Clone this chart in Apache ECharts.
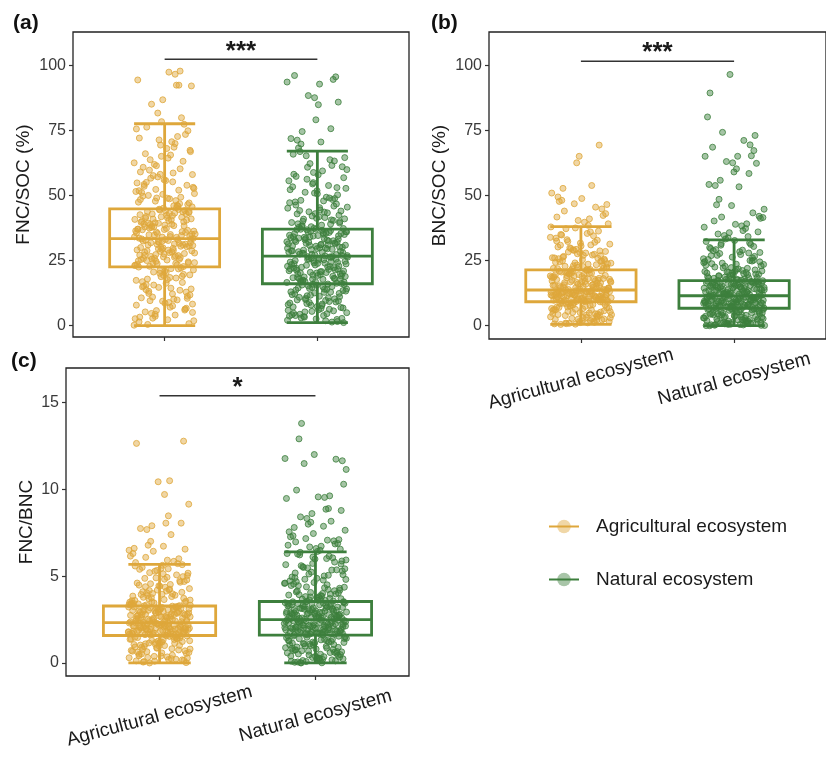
<!DOCTYPE html>
<html><head><meta charset="utf-8">
<script src="https://cdn.jsdelivr.net/npm/echarts@6/dist/echarts.min.js"></script>
<style>html,body{margin:0;padding:0;background:#fff}#c{width:826px;height:760px}</style>
</head><body><div id="c"></div>
<script>
// ---------------- data ----------------
const categories = ['Agricultural ecosystem', 'Natural ecosystem'];
const panelLabels = ['(a)', '(b)', '(c)'];
const yNames = ['FNC/SOC (%)', 'BNC/SOC (%)', 'FNC/BNC'];
const yTicksA = [0, 25, 50, 75, 100];
const yTicksB = [0, 25, 50, 75, 100];
const yTicksC = [0, 5, 10, 15];
// box statistics: [lower whisker, Q1, median, Q3, upper whisker]
const boxA_agri = [0, 22.6, 33.4, 44.8, 77.5];
const boxA_nat  = [1.2, 16.1, 26.7, 37.1, 67.0];
const boxB_agri = [0.5, 9.2, 13.7, 21.4, 38.0];
const boxB_nat  = [0, 6.7, 11.5, 17.3, 32.9];
const boxC_agri = [0, 1.58, 2.32, 3.28, 5.67];
const boxC_nat  = [0, 1.60, 2.50, 3.54, 6.39];
// significance annotations
const sigLabels = ['***', '***', '*'];
const sigY = [102.2, 101.5, 15.38];

const ptsA_agri = [0.2,0.8,1.5,2.3,2.9,3.6,4.1,4.7,5.3,5.8,6.4,7.1,7.6,8.3,8.9,9.4,10.2,10.7,11.3,11.8,12.4,12.9,13.6,14.1,14.7,15.2,15.8,16.3,16.9,17.4,17.9,18.3,18.8,19.3,19.7,20.1,20.6,21.0,21.4,21.8,22.2,3.3,9.9,14.4,19.0,
22.8,23.1,23.5,23.8,24.2,24.5,24.9,25.2,25.6,25.9,26.3,26.6,27.0,27.3,27.7,28.0,28.3,28.7,29.0,29.3,29.7,30.0,30.3,30.6,31.0,31.3,31.6,31.9,32.2,32.5,32.8,33.1,33.3,23.3,25.0,26.8,28.5,29.9,31.1,32.0,24.0,27.5,30.8,33.0,26.1,
33.6,33.9,34.2,34.6,34.9,35.2,35.6,35.9,36.3,36.6,37.0,37.3,37.7,38.0,38.4,38.8,39.1,39.5,39.9,40.3,40.6,41.0,41.4,41.8,42.2,42.6,43.0,43.4,43.8,44.2,44.6,34.4,35.4,36.8,37.9,38.6,39.7,40.8,41.9,43.2,44.4,34.0,36.1,39.3,42.9,
45.1,45.6,46.2,46.8,47.4,48.0,48.7,49.3,50.0,50.7,51.5,52.3,53.1,53.9,54.8,55.7,56.6,57.6,58.6,59.7,60.8,61.9,63.1,64.3,65.5,66.8,68.0,69.3,70.6,72.0,73.4,74.8,76.2,77.3,45.9,47.1,49.0,51.1,53.5,56.0,59.0,62.5,66.0,68.5,71.3,
78.3,79.8,81.6,85.0,86.7,92.0,92.3,92.3,94.3,96.5,97.3,97.7,
0.5,1.9,2.7,4.4,5.1,6.7,7.9,8.6,9.6,11.0,12.2,13.2,14.9,15.6,16.6,17.7,18.5,19.5,20.4,21.2,21.9,22.5,6.0,10.5,13.8,
22.7,23.4,24.1,24.7,25.4,25.8,26.4,27.1,27.9,28.2,28.9,29.5,30.1,30.5,31.2,31.8,32.4,33.2,23.9,26.9,29.1,31.4,32.7,25.5,28.8,
33.5,34.1,34.8,35.1,35.8,36.4,36.9,37.5,38.2,38.9,39.4,40.1,40.9,41.6,42.4,43.1,43.6,44.0,44.7,35.0,37.1,38.3,40.5,41.3,43.7,
45.3,46.5,47.8,48.4,49.7,50.4,51.8,52.7,54.2,55.2,57.1,58.1,60.2,61.4,63.7,65.0,67.3,69.9,72.6,75.5,46.0,48.9,52.0,55.0,58.0];
const ptsA_nat = [1.2,1.6,2.1,2.6,3.0,3.5,3.9,4.4,4.8,5.3,5.7,6.1,6.6,7.0,7.4,7.9,8.3,8.7,9.1,9.5,9.9,10.3,10.7,11.1,11.5,11.9,12.2,12.6,13.0,13.3,13.7,14.0,14.3,14.7,15.0,15.3,15.6,15.9,2.8,4.6,6.3,8.1,9.7,11.3,12.9,14.5,15.8,5.0,10.0,13.5,
16.3,16.6,16.9,17.2,17.5,17.8,18.1,18.4,18.7,19.0,19.3,19.6,19.9,20.2,20.5,20.8,21.1,21.4,21.7,22.0,22.3,22.6,22.9,23.2,23.5,23.8,24.1,24.4,24.7,25.0,25.3,25.6,25.9,26.2,26.5,16.8,17.9,19.1,20.4,21.6,22.8,24.0,25.2,26.4,18.5,21.0,23.7,17.0,20.0,25.5,
26.9,27.2,27.5,27.8,28.1,28.4,28.7,29.0,29.3,29.6,29.9,30.2,30.5,30.8,31.1,31.4,31.7,32.0,32.3,32.6,32.9,33.2,33.5,33.8,34.1,34.4,34.7,35.0,35.3,35.6,35.9,36.2,36.5,36.8,37.0,27.4,28.6,29.8,31.0,32.2,33.4,34.6,35.8,36.9,28.0,30.9,33.9,27.0,31.5,36.0,
37.4,37.8,38.2,38.6,39.1,39.6,40.1,40.6,41.2,41.8,42.4,43.0,43.7,44.4,45.1,45.9,46.7,47.5,48.4,49.3,50.2,51.2,52.2,53.3,54.4,55.6,56.8,58.1,59.4,60.8,62.2,63.7,65.2,66.8,38.0,39.9,41.5,43.3,45.5,47.9,50.6,53.8,57.3,61.0,64.5,40.9,44.0,48.8,52.7,58.8,
68.2,69.7,70.5,71.2,71.8,74.5,75.6,79.0,84.8,85.8,87.5,88.3,92.7,93.5,94.5,95.5,96.0,
1.4,1.9,2.4,3.3,3.7,4.2,5.5,5.9,6.8,7.2,7.7,8.5,8.9,9.3,10.5,10.9,11.7,12.4,12.8,13.9,14.1,14.9,15.5,16.0,3.9,
16.2,16.7,17.3,17.7,18.2,18.9,19.4,19.8,20.3,20.7,21.3,21.8,22.4,22.7,23.3,23.9,24.3,24.8,25.4,25.8,26.3,26.6,18.0,22.1,24.6,
26.8,27.3,27.7,28.2,28.8,29.2,29.7,30.1,30.6,31.2,31.6,32.1,32.5,33.0,33.6,34.0,34.5,35.1,35.5,36.1,36.6,37.0,29.5,32.8,35.4,
37.3,38.4,39.4,40.4,41.0,42.1,42.9,44.2,45.3,46.3,47.2,48.1,49.0,50.9,51.8,53.0,54.9,56.2,57.9,59.9,61.5,63.2,65.8,39.0,43.6];
const ptsB_agri = [0.5,0.7,1.0,1.3,1.6,1.9,2.2,2.5,2.8,3.1,3.4,3.7,4.0,4.3,4.6,4.9,5.2,5.5,5.8,6.1,6.3,6.6,6.9,7.1,7.4,7.6,7.9,8.1,8.4,8.6,8.8,9.0,1.1,2.0,3.0,4.1,5.0,6.0,7.0,8.0,9.1,0.8,2.6,4.5,6.8,
9.3,9.4,9.5,9.6,9.7,9.8,9.9,10.0,10.1,10.2,10.3,10.4,10.5,10.6,10.7,10.8,10.9,11.0,11.1,11.2,11.3,11.4,11.5,11.6,11.7,11.8,11.9,12.0,12.1,12.2,12.3,12.4,12.5,12.6,12.7,12.8,12.9,13.0,13.1,13.2,13.3,13.4,13.5,13.6,13.65,
13.8,14.0,14.2,14.4,14.6,14.7,14.9,15.1,15.3,15.5,15.7,15.8,16.0,16.2,16.4,16.6,16.8,16.9,17.1,17.3,17.5,17.7,17.9,18.0,18.2,18.4,18.6,18.8,19.0,19.1,19.3,19.5,19.7,19.9,20.1,20.2,20.4,20.6,20.8,21.0,21.2,21.3,14.3,17.0,19.6,
21.6,21.9,22.2,22.5,22.8,23.1,23.4,23.8,24.1,24.5,24.9,25.3,25.7,26.1,26.6,27.1,27.6,28.1,28.7,29.3,29.9,30.6,31.3,32.0,32.8,33.6,34.5,35.4,36.3,37.2,37.9,22.0,23.0,24.0,25.0,26.0,27.0,28.3,29.6,31.0,33.0,35.0,21.8,24.7,27.9,
38.5,39.1,39.7,40.4,41.0,41.7,42.3,43.0,44.0,44.8,45.5,46.5,46.8,47.7,48.1,48.8,49.4,50.9,52.7,53.8,62.5,65.0,69.3,
0.6,0.9,1.2,1.5,1.8,2.1,2.4,2.7,3.2,3.5,3.9,4.2,4.7,5.1,5.4,5.7,6.2,6.5,7.2,7.5,7.8,8.3,8.5,8.9,9.15,
9.25,9.45,9.65,9.85,10.05,10.25,10.45,10.65,10.85,11.05,11.25,11.45,11.65,11.85,12.05,12.25,12.45,12.65,12.85,13.05,13.25,13.45,13.55,10.15,11.75,
13.9,14.1,14.5,14.8,15.0,15.4,15.6,15.9,16.3,16.5,16.7,17.2,17.4,17.8,18.1,18.5,18.9,19.2,19.8,20.0,20.5,20.9,21.1,15.2,18.3,
21.5,22.1,22.7,23.3,23.6,24.3,24.8,25.5,26.3,26.9,27.4,28.5,29.1,30.2,30.9,31.7,32.5,33.9,34.8,36.0,37.5,22.4,25.9,28.9,32.3];
const ptsB_nat = [0.0,0.1,0.2,0.3,0.5,0.6,0.8,0.9,1.1,1.2,1.4,1.5,1.7,1.9,2.0,2.2,2.4,2.5,2.7,2.9,3.1,3.2,3.4,3.6,3.8,3.9,4.1,4.3,4.5,4.6,4.8,5.0,5.2,5.3,5.5,5.7,5.9,6.0,6.2,6.4,6.6,0.4,1.0,1.8,2.6,3.5,4.4,5.1,5.8,6.5,
6.8,6.9,7.0,7.1,7.2,7.3,7.4,7.5,7.6,7.7,7.8,7.9,8.0,8.1,8.2,8.3,8.4,8.5,8.6,8.7,8.8,8.9,9.0,9.1,9.2,9.3,9.4,9.5,9.6,9.7,9.8,9.9,10.0,10.1,10.2,10.3,10.4,10.5,10.6,10.7,10.8,10.9,11.0,11.1,11.2,11.3,11.4,7.35,8.55,9.75,
11.6,11.7,11.8,12.0,12.1,12.2,12.4,12.5,12.6,12.8,12.9,13.0,13.2,13.3,13.4,13.6,13.7,13.8,14.0,14.1,14.2,14.4,14.5,14.6,14.8,14.9,15.0,15.2,15.3,15.4,15.6,15.7,15.8,16.0,16.1,16.2,16.4,16.5,16.6,16.8,16.9,17.0,17.2,12.3,13.5,14.7,15.9,17.1,11.9,16.3,
17.5,17.8,18.1,18.4,18.7,19.0,19.3,19.7,20.0,20.4,20.8,21.2,21.6,22.0,22.5,23.0,23.5,24.0,24.5,25.1,25.7,26.3,27.0,27.7,28.4,29.2,30.0,30.9,31.8,32.7,17.6,18.5,19.5,20.6,21.8,23.2,24.8,26.6,28.8,31.2,18.0,19.8,22.2,25.4,29.6,17.9,20.2,21.0,23.8,27.3,
33.3,33.7,34.2,34.6,35.2,35.7,36.0,36.5,37.3,37.8,38.3,38.9,39.1,40.2,41.2,41.5,41.7,42.0,43.3,44.7,46.1,46.4,48.5,53.3,53.8,54.2,55.8,58.4,59.0,60.2,62.3,62.5,63.0,65.0,65.0,65.2,67.2,68.5,69.4,71.1,73.0,74.2,80.1,89.3,96.4,
0.05,0.15,0.35,0.45,0.7,0.85,1.15,1.3,1.6,1.75,2.1,2.3,2.8,3.0,3.3,3.7,4.0,4.2,4.7,4.9,5.4,5.6,6.1,6.3,6.6,
6.75,6.95,7.15,7.45,7.65,7.85,8.05,8.25,8.45,8.65,8.85,9.05,9.25,9.45,9.65,9.85,10.05,10.25,10.45,10.65,10.85,11.05,11.25,11.45,8.95,
11.65,11.95,12.15,12.45,12.7,12.95,13.15,13.45,13.65,13.95,14.15,14.35,14.65,14.95,15.1,15.45,15.65,15.95,16.15,16.45,16.7,16.95,17.25,13.1,15.5,
17.4,17.7,18.2,18.8,19.2,19.6,20.3,20.9,21.4,22.3,22.8,23.6,24.2,25.0,26.0,26.9,27.9,29.0,30.4,31.5,32.3,18.3,20.5,24.6,28.1];
const ptsC_agri = [0.0,0.05,0.1,0.15,0.2,0.25,0.3,0.35,0.4,0.45,0.5,0.55,0.6,0.65,0.7,0.75,0.8,0.85,0.9,0.95,1.0,1.03,1.06,1.1,1.13,1.16,1.2,1.23,1.26,1.3,1.33,1.36,1.4,1.43,1.46,1.5,1.53,1.56,0.32,0.68,0.92,1.18,1.38,1.55,0.12,
1.6,1.62,1.64,1.66,1.68,1.7,1.72,1.74,1.76,1.78,1.8,1.82,1.84,1.86,1.88,1.9,1.92,1.94,1.96,1.98,2.0,2.02,2.04,2.06,2.08,2.1,2.12,2.14,2.16,2.18,2.2,2.22,2.24,2.26,2.28,2.3,1.65,1.75,1.85,1.95,2.05,2.15,2.25,1.71,2.11,
2.34,2.36,2.39,2.41,2.43,2.45,2.48,2.5,2.52,2.54,2.57,2.59,2.61,2.63,2.66,2.68,2.7,2.72,2.75,2.77,2.79,2.81,2.84,2.86,2.88,2.9,2.93,2.95,2.97,2.99,3.02,3.04,3.06,3.08,3.11,3.13,3.15,3.17,3.2,3.22,3.24,3.26,2.55,2.8,3.05,
3.3,3.34,3.38,3.42,3.46,3.5,3.55,3.6,3.65,3.7,3.76,3.82,3.88,3.94,4.0,4.07,4.14,4.21,4.28,4.36,4.44,4.52,4.6,4.69,4.78,4.87,4.97,5.07,5.17,5.28,5.39,5.5,5.62,3.4,3.58,3.78,3.98,4.2,4.42,4.65,4.9,5.2,5.45,3.32,3.9,
5.72,5.78,5.85,5.92,6.0,6.08,6.15,6.3,6.43,6.49,6.55,6.6,6.72,6.78,7.0,7.39,7.68,7.74,7.9,8.05,8.05,8.47,9.14,9.7,10.43,10.49,12.64,12.77,
0.02,0.08,0.18,0.22,0.28,0.38,0.42,0.52,0.58,0.62,0.72,0.78,0.82,0.88,0.98,1.01,1.08,1.15,1.22,1.28,1.35,1.41,1.48,1.52,1.57,
1.59,1.63,1.67,1.69,1.73,1.77,1.79,1.83,1.87,1.89,1.93,1.97,1.99,2.03,2.07,2.09,2.13,2.17,2.19,2.23,2.27,2.29,2.31,1.81,2.01,
2.33,2.38,2.42,2.47,2.51,2.56,2.6,2.65,2.69,2.74,2.78,2.83,2.87,2.92,2.96,3.01,3.03,3.07,3.1,3.14,3.19,3.23,3.27,2.62,2.91,
3.29,3.36,3.44,3.52,3.62,3.72,3.85,3.96,4.04,4.17,4.25,4.39,4.48,4.56,4.73,4.82,4.93,5.03,5.13,5.33,5.42,5.58,5.66,3.48,4.1];
const ptsC_nat = [0.0,0.04,0.08,0.12,0.16,0.2,0.24,0.28,0.32,0.36,0.4,0.44,0.48,0.52,0.56,0.6,0.64,0.68,0.72,0.76,0.8,0.84,0.88,0.92,0.96,1.0,1.03,1.06,1.09,1.12,1.15,1.18,1.21,1.24,1.27,1.3,1.33,1.36,1.39,1.42,1.45,1.48,1.51,1.54,1.57,0.3,0.7,1.1,1.35,0.02,
1.62,1.64,1.66,1.68,1.7,1.72,1.74,1.76,1.78,1.8,1.82,1.84,1.86,1.88,1.9,1.92,1.94,1.96,1.98,2.0,2.02,2.04,2.06,2.08,2.1,2.12,2.14,2.16,2.18,2.2,2.22,2.24,2.26,2.28,2.3,2.32,2.34,2.36,2.38,2.4,2.42,2.44,2.46,2.48,1.73,1.87,2.01,2.15,2.29,2.43,
2.52,2.54,2.56,2.58,2.6,2.62,2.64,2.66,2.68,2.7,2.72,2.74,2.76,2.78,2.8,2.82,2.84,2.86,2.88,2.9,2.93,2.96,2.99,3.02,3.05,3.08,3.11,3.14,3.17,3.2,3.23,3.26,3.29,3.32,3.35,3.38,3.41,3.44,3.47,3.5,3.53,2.65,2.85,3.0,3.15,3.3,3.45,2.57,2.79,3.1,
3.57,3.61,3.65,3.7,3.75,3.8,3.85,3.91,3.97,4.03,4.09,4.16,4.23,4.3,4.38,4.46,4.54,4.63,4.72,4.81,4.91,5.01,5.12,5.23,5.35,5.47,5.6,5.73,5.87,6.01,6.15,6.3,3.6,3.78,3.96,4.15,4.36,4.58,4.82,5.08,5.36,5.66,5.98,6.22,3.68,4.0,4.45,4.95,5.5,6.05,
6.42,6.49,6.55,6.59,6.68,6.72,6.78,6.85,6.88,6.97,7.03,7.07,7.1,7.16,7.26,7.32,7.45,7.55,7.64,7.8,7.87,7.99,8.1,8.16,8.32,8.41,8.6,8.78,8.85,8.89,9.47,9.53,9.56,9.62,9.95,10.29,11.14,11.48,11.64,11.73,11.77,12.0,12.9,13.79,
0.01,0.06,0.1,0.14,0.18,0.22,0.26,0.34,0.38,0.46,0.5,0.58,0.62,0.66,0.74,0.78,0.86,0.9,0.98,1.04,1.14,1.2,1.29,1.41,1.55,
1.61,1.63,1.67,1.69,1.71,1.75,1.79,1.81,1.85,1.89,1.91,1.95,1.99,2.03,2.07,2.09,2.13,2.17,2.21,2.25,2.27,2.33,2.37,2.41,2.47,
2.51,2.55,2.59,2.63,2.67,2.71,2.75,2.81,2.87,2.92,2.95,2.98,3.04,3.07,3.13,3.16,3.22,3.25,3.31,3.34,3.4,3.43,3.49,3.52,2.89,
3.55,3.63,3.72,3.82,3.93,4.06,4.19,4.33,4.5,4.6,4.77,4.87,5.05,5.18,5.29,5.42,5.54,5.7,5.81,5.93,6.1,6.27,6.37,3.88,4.68];

// ---------------- style ----------------
const COLORS = ['#DEA73B', '#3D7F3D'];
const FILLS = ['rgba(222,167,59,0.58)', 'rgba(61,127,61,0.58)'];
const LEG_FILLS = ['rgba(222,167,59,0.45)', 'rgba(61,127,61,0.45)'];
const FONT = '"Liberation Sans", Arial, Helvetica, sans-serif';
const BOX_HALF = 0.36, CAP_HALF = 0.2, JIT = 0.2;

const grids = [
  {left: 73, top: 32, width: 336, height: 305},
  {left: 489, top: 32, width: 337, height: 307},
  {left: 66, top: 368, width: 343, height: 308}
];
const yRanges = [[-4.33, 112.7], [-5.1, 112.7], [-0.75, 16.98]];
const yTicks = [yTicksA, yTicksB, yTicksC];
const yNameGaps = [40, 40, 30];
const boxes = [[boxA_agri, boxA_nat], [boxB_agri, boxB_nat], [boxC_agri, boxC_nat]];
const pts = [[ptsA_agri, ptsA_nat], [ptsB_agri, ptsB_nat], [ptsC_agri, ptsC_nat]];
const starOffsetPx = 8;

// deterministic low-discrepancy horizontal jitter (position only, values untouched)
function jitterPoints(vals, cat, seed) {
  return vals.map((v, i) => {
    const f = ((i * 0.7548776662 + seed * 0.31) + (i * i % 7) * 0.1429) % 1;
    return [cat + (f - 0.5) * 2 * JIT, v];
  });
}

const xAxes = [], yAxes = [], series = [];
grids.forEach((g, k) => {
  xAxes.push({
    type: 'value', gridIndex: k, min: 0.4, max: 2.6,
    axisLine: {show: false, onZero: false},
    splitLine: {show: false},
    axisTick: {show: true, customValues: [1, 2], length: 4, lineStyle: {color: '#333', width: 1.2}},
    axisLabel: {
      show: k > 0, customValues: [1, 2],
      formatter: v => categories[Math.round(v) - 1],
      rotate: 15, align: 'center', verticalAlign: 'middle', margin: 40,
      fontSize: 19, color: '#1a1a1a', fontFamily: FONT
    }
  });
  yAxes.push({
    type: 'value', gridIndex: k, min: yRanges[k][0], max: yRanges[k][1],
    axisLine: {show: false, onZero: false},
    splitLine: {show: false},
    axisTick: {show: true, customValues: yTicks[k], length: 4, lineStyle: {color: '#333', width: 1.2}},
    axisLabel: {customValues: yTicks[k], margin: 7, fontSize: 16, color: '#3a3a3a', fontFamily: FONT},
    name: yNames[k], nameLocation: 'middle', nameRotate: 90, nameGap: yNameGaps[k],
    nameTextStyle: {fontSize: 19, color: '#1a1a1a', fontFamily: FONT}
  });
});

// legend proxies (first series with each name)
categories.forEach((name, c) => {
  series.push({
    type: 'line', name: name, xAxisIndex: 0, yAxisIndex: 0, data: [],
    symbol: 'circle', itemStyle: {color: LEG_FILLS[c]},
    lineStyle: {color: COLORS[c], width: 4}
  });
});

grids.forEach((g, k) => {
  // boxes
  series.push({
    type: 'custom', xAxisIndex: k, yAxisIndex: k, z: 1, silent: true,
    data: boxes[k].map((b, c) => [c + 1].concat(b)),
    renderItem: function (params, api) {
      const x = api.value(0), q1 = api.value(2), med = api.value(3), q3 = api.value(4);
      const col = COLORS[Math.round(x) - 1];
      const a = api.coord([x - BOX_HALF, q3]), b = api.coord([x + BOX_HALF, q1]);
      const m1 = api.coord([x - BOX_HALF, med]), m2 = api.coord([x + BOX_HALF, med]);
      return {type: 'group', children: [
        {type: 'rect', shape: {x: a[0], y: a[1], width: b[0] - a[0], height: b[1] - a[1]},
         style: {fill: 'none', stroke: col, lineWidth: 2.8}},
        {type: 'line', shape: {x1: m1[0], y1: m1[1], x2: m2[0], y2: m2[1]},
         style: {stroke: col, lineWidth: 2.8}}
      ]};
    }
  });
  // jittered points
  pts[k].forEach((vals, c) => {
    series.push({
      type: 'scatter', name: categories[c], xAxisIndex: k, yAxisIndex: k, z: 2,
      symbol: 'circle', symbolSize: 6, silent: true, large: false,
      itemStyle: {color: FILLS[c], borderColor: COLORS[c], borderWidth: 1},
      data: jitterPoints(vals, c + 1, k * 7 + c * 3)
    });
  });
  // whiskers and caps
  series.push({
    type: 'custom', xAxisIndex: k, yAxisIndex: k, z: 3, silent: true,
    data: boxes[k].map((b, c) => [c + 1].concat(b)),
    renderItem: function (params, api) {
      const x = api.value(0), lo = api.value(1), q1 = api.value(2), q3 = api.value(4), hi = api.value(5);
      const col = COLORS[Math.round(x) - 1];
      const st = {stroke: col, lineWidth: 2.8};
      const pLo = api.coord([x, lo]), pQ1 = api.coord([x, q1]), pQ3 = api.coord([x, q3]), pHi = api.coord([x, hi]);
      const cl1 = api.coord([x - CAP_HALF, lo]), cl2 = api.coord([x + CAP_HALF, lo]);
      const ch1 = api.coord([x - CAP_HALF, hi]), ch2 = api.coord([x + CAP_HALF, hi]);
      return {type: 'group', children: [
        {type: 'line', shape: {x1: pLo[0], y1: pLo[1], x2: pQ1[0], y2: pQ1[1]}, style: st},
        {type: 'line', shape: {x1: pQ3[0], y1: pQ3[1], x2: pHi[0], y2: pHi[1]}, style: st},
        {type: 'line', shape: {x1: cl1[0], y1: cl1[1], x2: cl2[0], y2: cl2[1]}, style: st},
        {type: 'line', shape: {x1: ch1[0], y1: ch1[1], x2: ch2[0], y2: ch2[1]}, style: st}
      ]};
    }
  });
  // significance bar
  series.push({
    type: 'custom', xAxisIndex: k, yAxisIndex: k, z: 4, silent: true,
    data: [[1, 2, sigY[k]]],
    renderItem: function (params, api) {
      const p1 = api.coord([api.value(0), api.value(2)]), p2 = api.coord([api.value(1), api.value(2)]);
      return {type: 'group', children: [
        {type: 'line', shape: {x1: p1[0], y1: p1[1], x2: p2[0], y2: p2[1]}, style: {stroke: '#333', lineWidth: 1.5}},
        {type: 'text', x: (p1[0] + p2[0]) / 2, y: p1[1] - starOffsetPx,
         style: {text: sigLabels[k], fontSize: 26, fontWeight: 'bold', fontFamily: FONT, fill: '#1a1a1a',
                 align: 'center', verticalAlign: 'middle'}}
      ]};
    }
  });
});

const chart = echarts.init(document.getElementById('c'), null, {renderer: 'canvas'});
chart.setOption({
  backgroundColor: '#fff',
  animation: false,
  title: [
    {text: panelLabels[0], left: 8, top: 8},
    {text: panelLabels[1], left: 426, top: 8},
    {text: panelLabels[2], left: 6, top: 346}
  ].map(t => Object.assign(t, {textStyle: {fontSize: 21, fontWeight: 'bold', color: '#111', fontFamily: FONT}})),
  grid: grids.map(g => Object.assign({show: true, borderColor: '#222', borderWidth: 1.3, backgroundColor: 'transparent'}, g)),
  xAxis: xAxes,
  yAxis: yAxes,
  legend: {
    data: categories, orient: 'vertical', left: 543, top: 512,
    itemWidth: 30, itemHeight: 17, itemGap: 34,
    textStyle: {fontSize: 19, color: '#1a1a1a', fontFamily: FONT, padding: [0, 0, 0, 12]}
  },
  series: series
});
</script></body></html>
